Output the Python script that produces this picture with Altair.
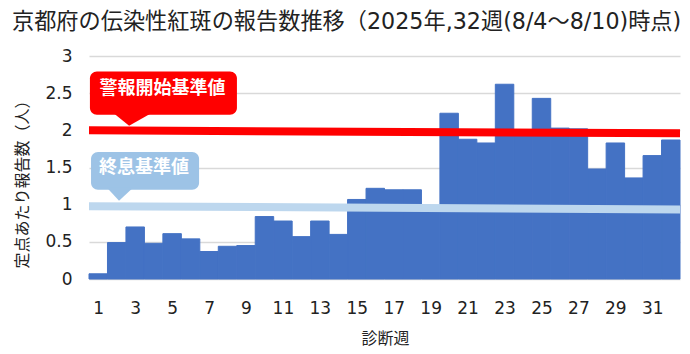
import altair as alt
import pandas as pd

# ---- data ----
weeks = list(range(1, 33))
reports = [0.07, 0.49, 0.70, 0.48, 0.61, 0.54, 0.37, 0.44, 0.45, 0.84,
           0.78, 0.57, 0.78, 0.60, 1.07, 1.22, 1.20, 1.20, 0.97, 2.23,
           1.88, 1.83, 2.62, 1.98, 2.43, 2.03, 2.02, 1.48, 1.83, 1.36,
           1.66, 1.87]
x_ticks = list(range(1, 32, 2))
y_ticks = [0, 0.5, 1, 1.5, 2, 2.5, 3]

title_text = "京都府の伝染性紅斑の報告数推移（2025年,32週(8/4～8/10)時点)"
y_title = "定点あたり報告数（人）"
x_title = "診断週"

# reference levels (as drawn: slight tilt from left to right end)
level_names = ["警報開始基準値", "終息基準値"]
level_left = [2.00, 0.98]
level_right = [1.96, 0.935]

# ---- styling / annotation geometry ----
BAR = "#4472C4"
RED = "#FF0000"
LIGHT_LINE = "#BDD7EE"
LIGHT_BOX = "#9DC3E6"
JP = "Noto Sans CJK JP"
NUM = "DejaVu Sans"
TITLE_FONT = "DejaVu Sans, Noto Sans CJK JP"
TXT = "#222222"

X_DOMAIN = [0.5, 32.5]
Y_DOMAIN = [0, 3]

# callouts in data coordinates
callouts = [
    dict(text=level_names[0], color=RED, x0=0.55, x1=8.51, y0=2.21, y1=2.79,
         tx=4.48, ty=2.56, px=2.86,
         path="M-0.975,-0.1 L0.975,-0.1 L-0.175,0.55 Z"),
    dict(text=level_names[1], color=LIGHT_BOX, x0=0.61, x1=6.46, y0=1.20, y1=1.71,
         tx=3.48, ty=1.49, px=2.18,
         path="M-0.65,-0.1 L0.65,-0.1 L-0.05,0.55 Z"),
]

df = pd.DataFrame({"week": weeks, "value": reports})

xs = alt.Scale(domain=X_DOMAIN, nice=False, zero=False)
ys = alt.Scale(domain=Y_DOMAIN, nice=False)

xaxis = alt.Axis(
    values=x_ticks, title=x_title, grid=False, domain=False, ticks=False,
    labelOverlap=False, labelFlush=False, labelBound=False,
    labelFont=NUM, labelFontSize=17, labelPadding=21, labelColor=TXT,
    titleFont=JP, titleFontSize=16, titleFontWeight="normal", titleColor=TXT,
    titleX=296, titleY=59, titleBaseline="middle", titleAlign="center")
yaxis = alt.Axis(
    values=y_ticks, format="~g", title=y_title, grid=True, gridColor="#D9D9D9",
    gridWidth=1.5, domain=False, ticks=False, labelOverlap=False,
    labelFont=NUM, labelFontSize=17, labelPadding=17, labelColor=TXT,
    titleFont=JP, titleFontSize=16, titleFontWeight="normal", titleColor=TXT,
    titleX=-67, titleY=124, titleAngle=-90, titleAlign="center",
    titleBaseline="middle")


def X(field):
    return alt.X(field, scale=xs, axis=xaxis)


def Y(field):
    return alt.Y(field, scale=ys, axis=yaxis)


bars = alt.Chart(df).transform_calculate(
    x0="datum.week - 0.5", x1="datum.week + 0.5"
).mark_rect(color=BAR, stroke=BAR, strokeWidth=1).encode(
    x=X("x0:Q"), x2="x1:Q",
    y=Y("value:Q"), y2=alt.datum(0),
)

line_df = pd.DataFrame({
    "name": level_names,
    "left": level_left,
    "right": level_right,
    "xl": [X_DOMAIN[0]] * 2,
    "xr": [X_DOMAIN[1]] * 2,
})

levels = alt.Chart(line_df).mark_rule(strokeCap="butt", strokeWidth=8).encode(
    x=X("xl:Q"), x2="xr:Q",
    y=Y("left:Q"), y2="right:Q",
    color=alt.Color("name:N", scale=alt.Scale(domain=level_names,
                                               range=[RED, LIGHT_LINE]), legend=None),
)

layers = [bars, levels]
for c in callouts:
    cdf = pd.DataFrame([c])
    box = alt.Chart(cdf).mark_rect(color=c["color"], cornerRadius=7).encode(
        x=X("x0:Q"), x2="x1:Q", y=Y("y0:Q"), y2="y1:Q")
    ptr = alt.Chart(cdf).mark_point(shape=c["path"], filled=True, opacity=1,
                                    color=c["color"], size=1600, strokeWidth=0).encode(
        x=X("px:Q"), y=Y("y0:Q"))
    txt = alt.Chart(cdf).mark_text(color="white", font=JP, fontSize=18,
                                   fontWeight="bold", align="center",
                                   baseline="middle").encode(
        x=X("tx:Q"), y=Y("ty:Q"), text="text:N")
    layers += [box, ptr, txt]

chart = alt.layer(*layers).properties(
    width=591, height=223,
    title=alt.TitleParams(title_text, anchor="start", frame="group", dx=-77,
                          offset=14, font=TITLE_FONT, fontSize=22.2,
                          fontWeight="normal", color=TXT),
    autosize=alt.AutoSizeParams(type="none"),
    padding={"left": 89, "top": 56, "right": 10, "bottom": 75},
).configure_view(stroke=None)

chart.save("out.html", embed_options={"renderer": "svg", "actions": False})
